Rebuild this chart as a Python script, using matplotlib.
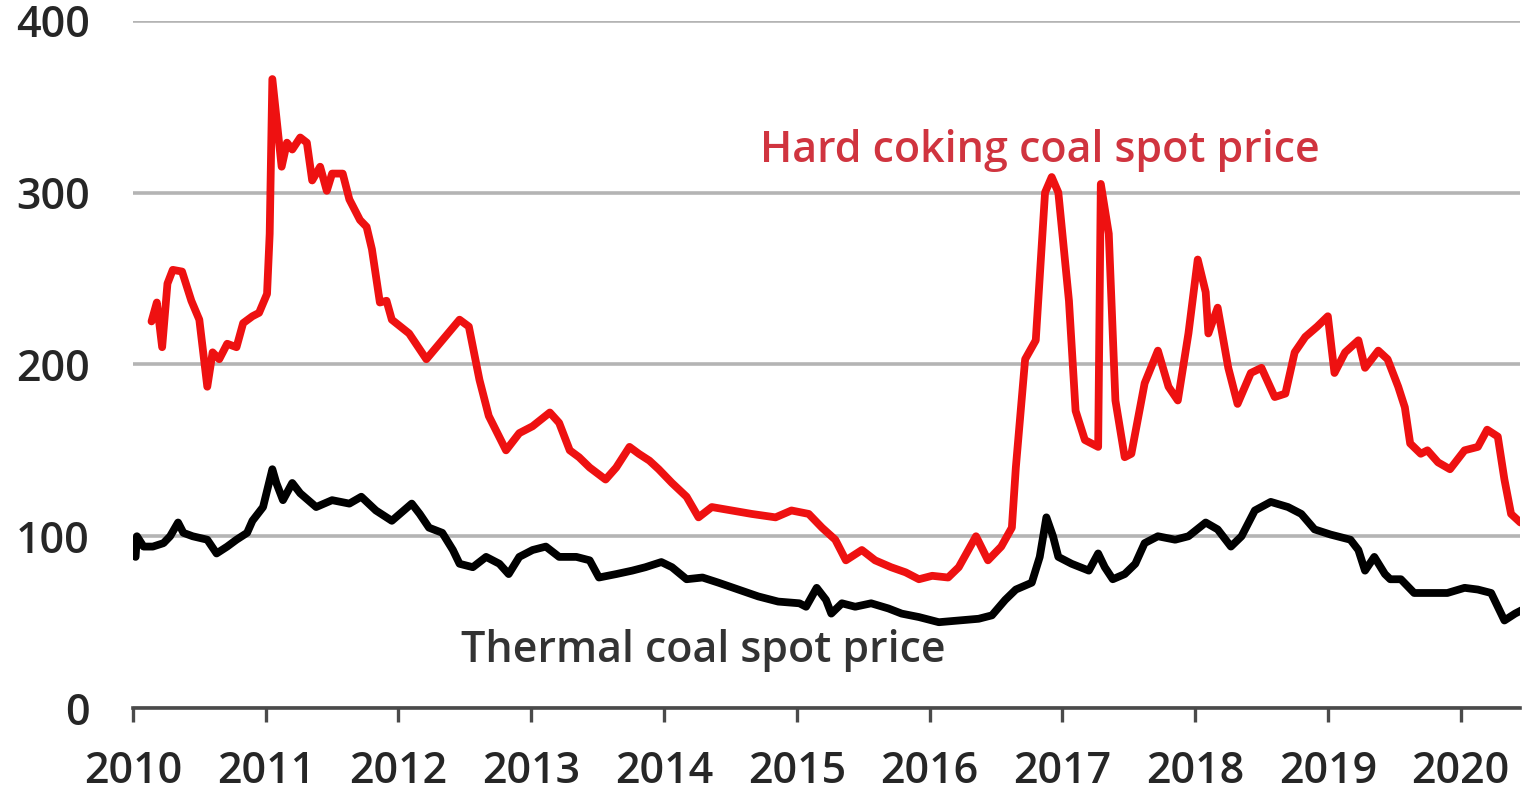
import matplotlib.pyplot as plt

plt.rcParams['font.family'] = ['Open Sans', 'DejaVu Sans']

# Hard coking coal spot price (USD/t), decimal years
coking_years = [2010.14, 2010.18, 2010.22, 2010.26, 2010.30, 2010.37, 2010.44, 2010.50, 2010.56, 2010.60,
                2010.65, 2010.71, 2010.78, 2010.83, 2010.90, 2010.95, 2011.01, 2011.03, 2011.05, 2011.08,
                2011.12, 2011.16, 2011.20, 2011.26, 2011.31, 2011.35, 2011.41, 2011.46, 2011.50, 2011.58,
                2011.63, 2011.71, 2011.76, 2011.80, 2011.86, 2011.91, 2011.95, 2012.08, 2012.21, 2012.33,
                2012.46, 2012.53, 2012.61, 2012.68, 2012.81, 2012.91, 2013.01, 2013.14, 2013.21, 2013.29,
                2013.36, 2013.44, 2013.56, 2013.64, 2013.74, 2013.81, 2013.89, 2013.96, 2014.06, 2014.17,
                2014.26, 2014.36, 2014.51, 2014.66, 2014.84, 2014.96, 2015.09, 2015.19, 2015.29, 2015.37,
                2015.49, 2015.59, 2015.71, 2015.82, 2015.92, 2016.02, 2016.14, 2016.22, 2016.35, 2016.44,
                2016.54, 2016.62, 2016.65, 2016.72, 2016.80, 2016.87, 2016.92, 2016.97, 2017.05, 2017.10,
                2017.17, 2017.27, 2017.29, 2017.35, 2017.40, 2017.47, 2017.52, 2017.62, 2017.72, 2017.80,
                2017.87, 2017.95, 2018.02, 2018.08, 2018.10, 2018.17, 2018.25, 2018.32, 2018.42, 2018.50,
                2018.60, 2018.68, 2018.75, 2018.83, 2018.92, 2019.00, 2019.05, 2019.13, 2019.23, 2019.28,
                2019.38, 2019.45, 2019.53, 2019.58, 2019.62, 2019.70, 2019.75, 2019.83, 2019.92, 2020.03,
                2020.13, 2020.20, 2020.28, 2020.33, 2020.38, 2020.45]
coking_price = [225, 236, 210, 247, 255, 254, 237, 226, 187, 207,
                203, 212, 210, 224, 228, 230, 241, 276, 366, 344,
                315, 329, 325, 332, 329, 307, 315, 301, 311, 311,
                296, 284, 280, 267, 236, 237, 226, 218, 203, 214,
                226, 222, 191, 170, 150, 160, 164, 172, 166, 150,
                146, 140, 133, 140, 152, 148, 144, 139, 131, 123,
                111, 117, 115, 113, 111, 115, 113, 105, 98, 86,
                92, 86, 82, 79, 75, 77, 76, 82, 100, 86,
                94, 105, 140, 203, 214, 300, 309, 300, 237, 173,
                156, 152, 305, 276, 179, 146, 148, 189, 208, 187,
                179, 218, 261, 242, 218, 233, 198, 177, 195, 198,
                181, 183, 207, 216, 222, 228, 195, 207, 214, 198,
                208, 203, 187, 175, 154, 148, 150, 143, 139, 150,
                152, 162, 158, 133, 113, 108]

# Thermal coal spot price (USD/t)
thermal_years = [2010.02, 2010.03, 2010.08, 2010.15, 2010.23, 2010.28, 2010.34, 2010.38, 2010.45, 2010.56,
                 2010.63, 2010.71, 2010.78, 2010.86, 2010.90, 2010.98, 2011.05, 2011.08, 2011.13, 2011.20,
                 2011.26, 2011.38, 2011.50, 2011.63, 2011.72, 2011.83, 2011.95, 2012.10, 2012.16, 2012.23,
                 2012.33, 2012.41, 2012.46, 2012.56, 2012.66, 2012.76, 2012.83, 2012.91, 2013.01, 2013.11,
                 2013.21, 2013.34, 2013.44, 2013.51, 2013.64, 2013.76, 2013.86, 2013.98, 2014.06, 2014.17,
                 2014.29, 2014.41, 2014.56, 2014.71, 2014.86, 2015.02, 2015.07, 2015.15, 2015.22, 2015.26,
                 2015.34, 2015.44, 2015.56, 2015.69, 2015.79, 2015.92, 2016.07, 2016.22, 2016.37, 2016.47,
                 2016.57, 2016.65, 2016.77, 2016.83, 2016.88, 2016.93, 2016.97, 2017.07, 2017.20, 2017.27,
                 2017.32, 2017.38, 2017.47, 2017.55, 2017.62, 2017.72, 2017.85, 2017.95, 2018.08, 2018.17,
                 2018.27, 2018.35, 2018.45, 2018.57, 2018.70, 2018.80, 2018.90, 2019.02, 2019.17, 2019.23,
                 2019.28, 2019.35, 2019.43, 2019.47, 2019.55, 2019.65, 2019.77, 2019.90, 2020.03, 2020.13,
                 2020.23, 2020.28, 2020.33, 2020.41, 2020.46]
thermal_price = [88, 100, 94, 94, 96, 100, 108, 102, 100, 98,
                 90, 94, 98, 102, 109, 117, 139, 131, 121, 131,
                 125, 117, 121, 119, 123, 115, 109, 119, 113, 105,
                 102, 92, 84, 82, 88, 84, 78, 88, 92, 94,
                 88, 88, 86, 76, 78, 80, 82, 85, 82, 75,
                 76, 73, 69, 65, 62, 61, 59, 70, 63, 55,
                 61, 59, 61, 58, 55, 53, 50, 51, 52, 54,
                 63, 69, 73, 88, 111, 100, 88, 84, 80, 90,
                 82, 75, 78, 84, 96, 100, 98, 100, 108, 104,
                 94, 100, 115, 120, 117, 113, 104, 101, 98, 92,
                 80, 88, 78, 75, 75, 67, 67, 67, 70, 69,
                 67, 59, 51, 55, 57]

year_ticks = list(range(2010, 2021))
price_ticks = [0, 100, 200, 300, 400]

fig = plt.figure(figsize=(15.28, 7.93), dpi=100)
ax = fig.add_axes([0.087, 0.107, 0.908, 0.867])

ax.plot(coking_years, coking_price, color='#ee1111', lw=5.6,
        solid_joinstyle='round', solid_capstyle='round', zorder=3)
ax.plot(thermal_years, thermal_price, color='#000000', lw=5.6,
        solid_joinstyle='round', solid_capstyle='round', zorder=3)

ax.set_xlim(2010, 2020.45)
ax.set_ylim(0, 400)
ax.set_xticks(year_ticks)
ax.set_yticks(price_ticks)
ax.yaxis.grid(True, color='#b4b4b4', lw=2.6)
ax.set_axisbelow(True)

for side in ['top', 'right', 'left']:
    ax.spines[side].set_visible(False)
ax.spines['bottom'].set_color('#4a4a4a')
ax.spines['bottom'].set_linewidth(2.6)
ax.spines['bottom'].set_zorder(4)

ax.tick_params(axis='x', direction='out', length=10, width=2.4, color='#4a4a4a',
               labelsize=31, labelcolor='#262626', pad=20)
ax.tick_params(axis='y', length=0, labelsize=31, labelcolor='#262626', pad=31)
for lab in ax.get_xticklabels() + ax.get_yticklabels():
    lab.set_fontweight(600)

ax.text(2014.72, 318, 'Hard coking coal spot price', color='#d0343f', fontsize=31,
        fontweight=600, ha='left', va='baseline')
ax.text(2012.47, 27, 'Thermal coal spot price', color='#333333', fontsize=31,
        fontweight=600, ha='left', va='baseline')

fig.savefig('out.png', dpi=100)
